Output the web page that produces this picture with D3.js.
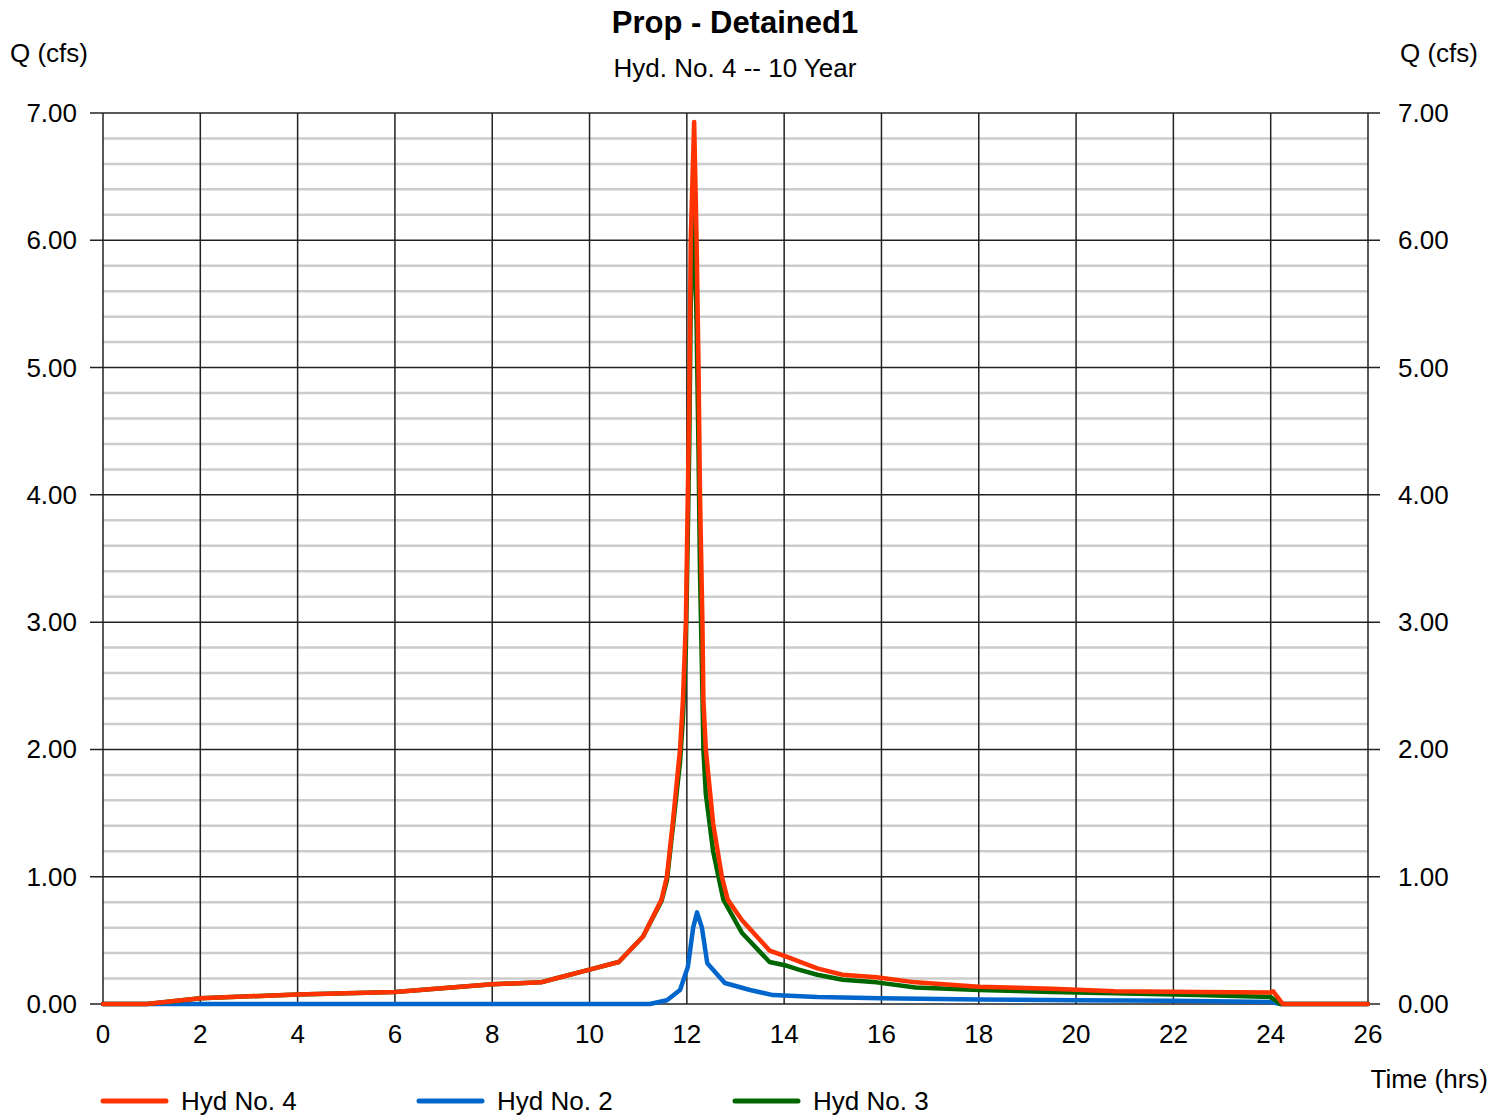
<!DOCTYPE html>
<html><head><meta charset="utf-8">
<script src="https://cdn.jsdelivr.net/npm/d3@7/dist/d3.min.js"></script>
<style>
body{margin:0;background:#fff;}
text{font-family:"Liberation Sans",Arial,sans-serif;fill:#000;}
</style></head>
<body><svg id="c" width="1506" height="1116"></svg>
<script>
const title = "Prop - Detained1";
const subtitle = "Hyd. No. 4 -- 10 Year";
const yTicks = [0,1,2,3,4,5,6,7];
const xTicks = [0,2,4,6,8,10,12,14,16,18,20,22,24,26];

// Hyd No. 4 (red)
const hyd4T = [0,0.9,2,4,6,8,9,9.3,10,10.6,11.1,11.48,11.59,11.71,11.86,11.92,11.98,12.02,12.05,12.08,12.15,12.2,12.24,12.27,12.32,12.34,12.39,12.54,12.72,12.84,13.13,13.7,14.06,14.68,15.2,15.9,16.7,18,19.5,20.8,22.5,24,24.05,24.25,26];
const hyd4Q = [0,0,0.045,0.075,0.095,0.155,0.17,0.2,0.27,0.33,0.53,0.82,1.0,1.42,2.0,2.39,3.0,4.0,4.74,6.0,6.93,6.0,5.0,4.0,3.0,2.39,2.0,1.42,1.0,0.82,0.66,0.42,0.37,0.28,0.23,0.21,0.17,0.135,0.12,0.10,0.095,0.09,0.10,0,0];
// Hyd No. 2 (blue)
const hyd2T = [0,11.24,11.59,11.86,12.02,12.13,12.21,12.31,12.42,12.78,13.3,13.77,14.68,16,18,20,22,24,24.2,26];
const hyd2Q = [0,0,0.03,0.11,0.29,0.6,0.72,0.6,0.32,0.165,0.11,0.07,0.055,0.045,0.035,0.03,0.025,0.015,0,0];
// Hyd No. 3 (green)
const hyd3T = [0,0.9,2,4,6,8,9,9.3,10,10.6,11.1,11.48,11.59,11.71,11.86,11.92,11.98,12.02,12.05,12.08,12.15,12.2,12.24,12.27,12.32,12.34,12.39,12.54,12.65,12.75,13.13,13.7,14.06,14.3,14.68,15.2,15.9,16.7,18,19.5,20.8,22.5,24,24.2,26];
const hyd3Q = [0,0,0.045,0.075,0.095,0.155,0.17,0.2,0.27,0.33,0.53,0.81,0.97,1.38,1.9,2.25,2.8,3.7,4.4,5.5,6.25,5.35,4.35,3.4,2.45,2.0,1.65,1.2,1.0,0.82,0.56,0.33,0.30,0.27,0.23,0.19,0.17,0.13,0.11,0.095,0.085,0.07,0.055,0,0];

const series = [
  {name:"Hyd No. 2", t:hyd2T, q:hyd2Q, color:"#0066cc"},
  {name:"Hyd No. 3", t:hyd3T, q:hyd3Q, color:"#006600"},
  {name:"Hyd No. 4", t:hyd4T, q:hyd4Q, color:"#ff3300"}
];
const legendOrder = ["Hyd No. 4","Hyd No. 2","Hyd No. 3"];

const svg = d3.select("#c");
const L=103,R=1368,T=113,B=1004;
const x = d3.scaleLinear().domain([0,26]).range([L,R]);
const y = d3.scaleLinear().domain([0,7]).range([B,T]);
const FS = 26;

// minor grid
const minor = d3.range(0,7.0001,0.2).filter(v=>Math.abs(v-Math.round(v))>1e-6);
svg.append("g").selectAll("line").data(minor).join("line")
  .attr("x1",L).attr("x2",R).attr("y1",d=>y(d)).attr("y2",d=>y(d))
  .attr("stroke","#cccccc").attr("stroke-width",2.5);
// major horizontal
svg.append("g").selectAll("line").data(yTicks).join("line")
  .attr("x1",L-13).attr("x2",R+12).attr("y1",d=>y(d)).attr("y2",d=>y(d))
  .attr("stroke","#222").attr("stroke-width",1.5);
// vertical
svg.append("g").selectAll("line").data(xTicks).join("line")
  .attr("x1",d=>x(d)).attr("x2",d=>x(d)).attr("y1",T).attr("y2",B)
  .attr("stroke","#222").attr("stroke-width",1.5);

// y labels
svg.append("g").selectAll("text").data(yTicks).join("text")
  .attr("x",77).attr("y",d=>y(d)+9).attr("text-anchor","end")
  .attr("font-size",FS).text(d=>d.toFixed(2));
svg.append("g").selectAll("text").data(yTicks).join("text")
  .attr("x",1398).attr("y",d=>y(d)+9).attr("text-anchor","start")
  .attr("font-size",FS).text(d=>d.toFixed(2));
// x labels
svg.append("g").selectAll("text").data(xTicks).join("text")
  .attr("x",d=>x(d)).attr("y",1043).attr("text-anchor","middle")
  .attr("font-size",FS).text(d=>d);

svg.append("text").attr("x",10).attr("y",62).attr("font-size",FS).text("Q (cfs)");
svg.append("text").attr("x",1478).attr("y",62).attr("font-size",FS).attr("text-anchor","end").text("Q (cfs)");
svg.append("text").attr("x",1488).attr("y",1088).attr("font-size",FS).attr("text-anchor","end").text("Time (hrs)");
svg.append("text").attr("x",735).attr("y",33).attr("font-size",31).attr("font-weight","bold").attr("text-anchor","middle").text(title);
svg.append("text").attr("x",735).attr("y",77).attr("font-size",26).attr("text-anchor","middle").text(subtitle);

const line = d3.line().x(d=>x(d[0])).y(d=>y(d[1]));
series.forEach(s=>{
  svg.append("path").datum(s.t.map((t,i)=>[t,s.q[i]]))
    .attr("d",line).attr("fill","none").attr("stroke",s.color)
    .attr("stroke-width",4.5).attr("stroke-linejoin","round").attr("stroke-linecap","round");
});

// legend
const lx=[103,419,735];
legendOrder.forEach((n,i)=>{
  const s = series.find(d=>d.name===n);
  svg.append("line").attr("x1",lx[i]).attr("x2",lx[i]+63).attr("y1",1101).attr("y2",1101)
    .attr("stroke",s.color).attr("stroke-width",5).attr("stroke-linecap","round");
  svg.append("text").attr("x",lx[i]+78).attr("y",1110).attr("font-size",FS).text(n);
});
</script></body></html>
